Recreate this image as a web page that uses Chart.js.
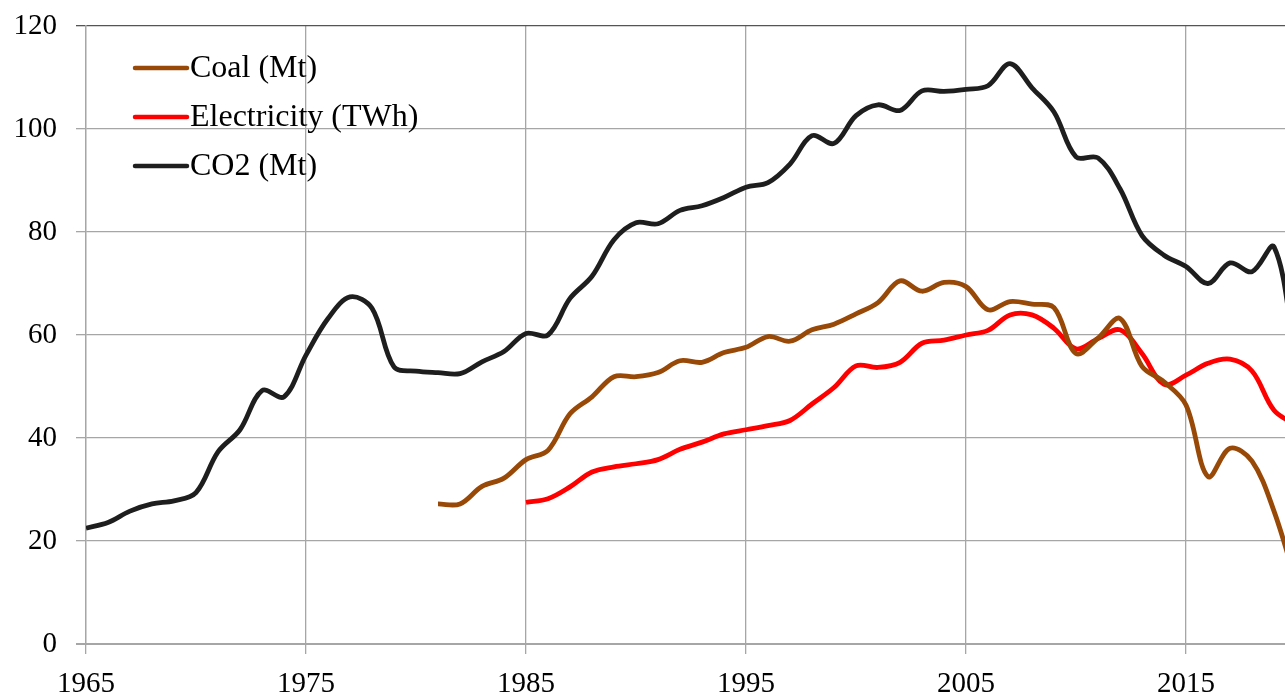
<!DOCTYPE html>
<html>
<head>
<meta charset="utf-8">
<script src="https://cdn.jsdelivr.net/npm/chart.js@4"></script>
<style>
  html, body { margin: 0; padding: 0; background: #fff; overflow: hidden; }
  #wrap { width: 1285px; height: 697px; }
</style>
</head>
<body>
<div id="wrap"><canvas id="mainChart" width="1285" height="697"></canvas></div>
<script>
const years = [];
for (let y = 1965; y <= 2020; y++) years.push(y);

const co2Values = [
  22.5, 23.6, 25.8, 27.2, 27.8, 29.4, 37.3, 41.6, 49.2, 48.0,
  56.1, 63.2, 67.4, 65.2, 53.8, 53.0, 52.7, 52.5, 54.8, 56.8,
  60.3, 60.0, 67.1, 71.4, 78.5, 81.8, 81.6, 84.2, 85.1, 86.7,
  88.7, 89.6, 93.2, 98.7, 97.2, 102.6, 104.7, 103.6, 107.4, 107.3,
  107.7, 108.4, 112.7, 108.0, 103.3, 94.6, 94.4, 88.4, 79.3, 75.5,
  73.3, 70.0, 74.0, 72.3, 77.1, 55.0
];
const coalStart = 1981;
const coalValues = [
  27.2, 27.2, 30.6, 32.2, 35.8, 37.6, 44.7, 48.0, 51.9, 51.9,
  52.7, 55.0, 54.7, 56.6, 57.6, 59.7, 58.8, 61.0, 62.1, 64.1,
  66.3, 70.5, 68.5, 70.2, 69.4, 64.9, 66.5, 66.0, 65.3, 56.4,
  59.4, 63.2, 53.9, 50.9, 46.4, 32.5, 38.0, 35.5, 25.8, 12.0
];
const elecStart = 1985;
const elecValues = [
  27.5, 28.2, 30.5, 33.4, 34.4, 35.0, 35.8, 37.8, 39.2, 40.8,
  41.6, 42.4, 43.4, 46.6, 49.8, 54.0, 53.7, 54.7, 58.4, 59.0,
  60.0, 60.9, 63.9, 63.9, 61.3, 57.3, 59.3, 61.0, 56.4, 50.4,
  52.2, 54.5, 55.3, 53.0, 45.4, 42.5
];
const xTicks = [1965, 1975, 1985, 1995, 2005, 2015];
const yTicks = [0, 20, 40, 60, 80, 100, 120];

function toPoints(start, values) {
  return values.map((v, i) => ({ x: start + i, y: v }));
}

const tickFont = { family: '"Liberation Serif", "Times New Roman", serif', size: 29 };

const insideLegend = {
  id: 'insideLegend',
  afterDraw(chart) {
    const ctx = chart.ctx;
    ctx.save();
    ctx.font = '32px "Liberation Serif", serif';
    ctx.textBaseline = 'middle';
    chart.data.datasets.forEach((ds, i) => {
      const y = 68 + i * 49;
      ctx.strokeStyle = ds.borderColor;
      ctx.lineWidth = 4.5;
      ctx.lineCap = 'round';
      ctx.beginPath();
      ctx.moveTo(135, y);
      ctx.lineTo(187, y);
      ctx.stroke();
      ctx.fillStyle = '#000';
      ctx.fillText(ds.label, 190, y + 1);
    });
    ctx.restore();
  }
};

document.addEventListener('DOMContentLoaded', function () {
  const ctx = document.getElementById('mainChart');

  new Chart(ctx, {
    type: 'line',
    data: {
      datasets: [{
        label: 'Coal (Mt)',
        data: toPoints(coalStart, coalValues),
        borderColor: '#984807',
        borderWidth: 4.8,
        tension: 0.35,
        pointRadius: 0,
        fill: false
      }, {
        label: 'Electricity (TWh)',
        data: toPoints(elecStart, elecValues),
        borderColor: '#ff0000',
        borderWidth: 4.8,
        tension: 0.35,
        pointRadius: 0,
        fill: false
      }, {
        label: 'CO2 (Mt)',
        data: toPoints(years[0], co2Values),
        borderColor: '#1e1e1e',
        borderWidth: 4.8,
        tension: 0.35,
        pointRadius: 0,
        fill: false
      }]
    },
    options: {
      responsive: false,
      animation: false,
      layout: { padding: { top: 26, left: 0, right: 0, bottom: 0 } },
      plugins: {
        legend: { display: false },
        tooltip: { enabled: false }
      },
      scales: {
        x: {
          type: 'linear',
          min: 1965,
          max: 2019.5,
          afterBuildTicks: s => { s.ticks = xTicks.map(v => ({ value: v })); },
          afterFit: s => { s.height = 53; s.paddingLeft = 0; s.paddingRight = 0; },
          ticks: {
            color: '#000',
            font: tickFont,
            padding: 13,
            maxRotation: 0,
            callback: v => String(v)
          },
          grid: { color: '#a6a6a6', lineWidth: 1.3, tickLength: 10 },
          border: { color: '#a6a6a6', width: 2 }
        },
        y: {
          min: 0,
          max: 120,
          afterBuildTicks: s => { s.ticks = yTicks.map(v => ({ value: v })); },
          afterFit: s => { s.width = 86; s.paddingTop = 0; s.paddingBottom = 0; },
          ticks: {
            color: '#000',
            font: tickFont,
            padding: 19,
            callback: v => String(v)
          },
          grid: {
            color: c => (c.tick && c.tick.value === 120 ? '#555555' : '#a6a6a6'),
            lineWidth: c => (c.tick && c.tick.value === 0 ? 2 : 1.3),
            tickLength: 10
          },
          border: { color: '#a6a6a6', width: 1.3 }
        }
      }
    },
    plugins: [insideLegend]
  });
});
</script>
</body>
</html>
